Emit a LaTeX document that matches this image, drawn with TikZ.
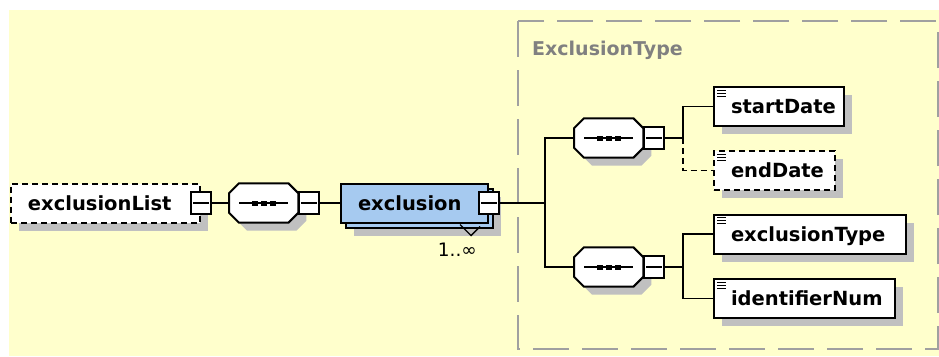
\documentclass[tikz,border=0pt]{standalone}
\usepackage{fontspec}
\setsansfont{DejaVu Sans}
\usetikzlibrary{shadows}
\definecolor{xsyellow}{HTML}{FFFFCC}
\definecolor{xsblue}{HTML}{A6CAF0}
\definecolor{xsgray}{HTML}{C0C0C0}
\definecolor{xsframe}{HTML}{A0A0A0}
\definecolor{xslabel}{HTML}{808080}
\tikzset{
  boxshadow/.style={general shadow={shadow xshift=8pt,shadow yshift=-8pt,fill=xsgray}},
  elem/.style={draw,fill=white,line width=2pt,minimum height=39pt,inner sep=0pt,
    text width=#1,align=left,text height=14pt,text depth=0pt,anchor=west,
    font=\sffamily\bfseries\fontsize{19.5}{20}\selectfont,
    execute at begin node={\hspace*{17pt}}},
  optional/.style={dash pattern=on 6pt off 4pt},
  seq/.style={rectangle,minimum width=69pt,minimum height=39pt,inner sep=0pt,anchor=west},
  minus/.style={draw,fill=white,line width=1.6pt,minimum width=20pt,minimum height=22pt,inner sep=0pt},
  wire/.style={line width=1.8pt}
}
\begin{document}
\begin{tikzpicture}[x=1pt,y=-1pt]
  \path[use as bounding box] (0,0) rectangle (939,356);
  \fill[white] (0,0) rectangle (939,356);
  \fill[xsyellow] (9,10) rectangle (939,356);
  % complex type frame
  \draw[xsframe,line width=2pt,dash pattern=on 36pt off 13pt] (518,21) rectangle (938,349);
  \node[anchor=base west,inner sep=0pt,text=xslabel,font=\sffamily\bfseries\fontsize{19}{20}\selectfont] (typename) at (532,55) {ExclusionType};
  % sequence compositors
  \node[seq] (seq1) at (229,203) {};
  \node[seq] (seq2) at (574,138) {};
  \node[seq] (seq3) at (574,267) {};
  \foreach \s in {seq1,seq2,seq3} {
    \filldraw[fill=white,line width=2pt,boxshadow]
      ([xshift=10pt]\s.north west) -- ([xshift=-10pt]\s.north east) -- ([yshift=-10pt]\s.north east)
      -- ([yshift=10pt]\s.south east) -- ([xshift=-10pt]\s.south east) -- ([xshift=10pt]\s.south west)
      -- ([yshift=10pt]\s.south west) -- ([yshift=-10pt]\s.north west) -- cycle;
    \draw[line width=1.6pt] ([xshift=10pt]\s.west) -- ([xshift=-10pt]\s.east);
    \foreach \d in {-9,0,9}
      \fill ([xshift=\d pt]\s.center) +(-3,-2.5) rectangle +(3,2.5);
  }
  % elements
  \node[elem=189,optional,boxshadow] (list) at (10,203) {exclusionList};
  \node[elem=147,fill=xsblue,
    general shadow={shadow xshift=13pt,shadow yshift=-13pt,fill=xsgray},
    general shadow={shadow xshift=5pt,shadow yshift=-5pt,fill=xsblue,draw=black,line width=2pt}] (excl) at (340,203) {exclusion};
  \draw[line width=1.4pt] ([shift={(-29,1)}]excl.south east) -- ++(11,11) -- ++(9,-9);
  \node[anchor=east,inner sep=0pt,font=\sffamily\fontsize{18.5}{18}\selectfont] (mult) at (477,250) {1..∞};
  \node[elem=130,boxshadow] (start) at (713,106.5) {startDate};
  \node[elem=121,optional,boxshadow] (end) at (713,170.5) {endDate};
  \node[elem=192,boxshadow] (type) at (713,234) {exclusionType};
  \node[elem=181,boxshadow] (ident) at (713,298.5) {identifierNum};
  \foreach \n in {start,end,type,ident}
    \foreach \k in {4,7,10}
      \draw[line width=1pt] ([shift={(4,\k)}]\n.north west) -- ++(9,0);
  % collapse boxes
  \node[minus] (listm) at (list.east) {};
  \node[minus,anchor=west] (seq1m) at (seq1.east) {};
  \node[minus] (exclm) at (excl.east) {};
  \node[minus,anchor=west] (seq2m) at (seq2.east) {};
  \node[minus,anchor=west] (seq3m) at (seq3.east) {};
  \foreach \m in {listm,seq1m,exclm,seq2m,seq3m}
    \draw[line width=1.4pt] ([xshift=3pt]\m.west) -- ([xshift=-3pt]\m.east);
  % connectors
  \coordinate (bus1) at (545,203);
  \coordinate (bus2) at (683,138);
  \coordinate (bus3) at (683,267);
  \draw[wire] (listm.east) -- (seq1.west);
  \draw[wire] (seq1m.east) -- (excl.west);
  \draw[wire] (exclm.east) -- (bus1);
  \draw[wire] (seq2.west) -| (bus1) |- (seq3.west);
  \draw[wire] (seq2m.east) -- (bus2);
  \draw[wire] (start.west) -| (bus2);
  \draw[wire,optional] (bus2) |- (end.west);
  \draw[wire] (seq3m.east) -- (bus3);
  \draw[wire] (type.west) -| (bus3) |- (ident.west);
\end{tikzpicture}
\end{document}
